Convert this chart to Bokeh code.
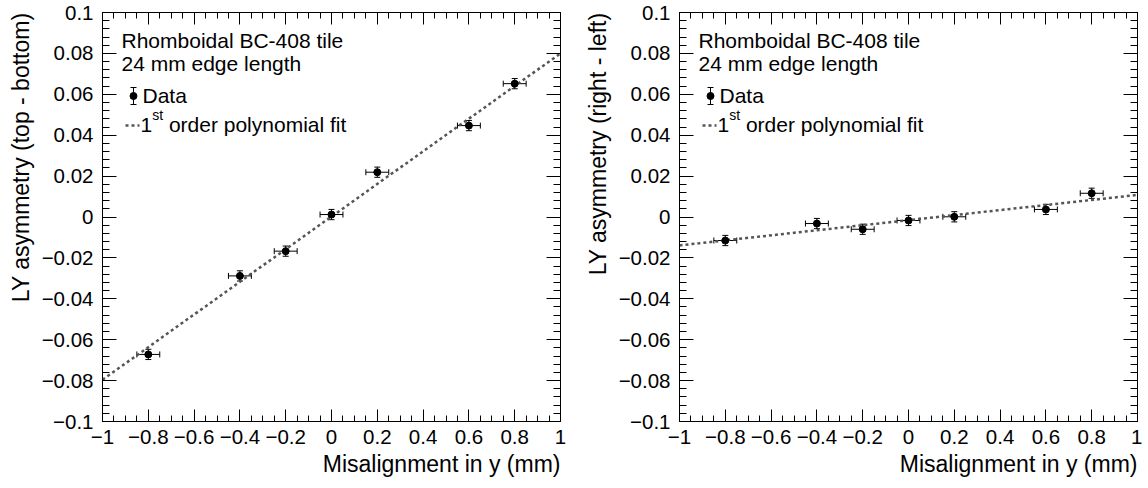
import math
from bokeh.plotting import figure
from bokeh.models import (ColumnDataSource, Whisker, TeeHead, Label, LinearAxis, Title,
                          SingleIntervalTicker, CustomJSTickFormatter, Range1d)
from bokeh.layouts import row
from bokeh.embed import file_html
from bokeh.resources import INLINE

# ---------------- data ----------------
misalign = [-0.8, -0.4, -0.2, 0.0, 0.2, 0.6, 0.8]          # mm
misalign_err = [0.05, 0.05, 0.05, 0.05, 0.05, 0.05, 0.05]

asym_top_bottom = [-0.0672, -0.0288, -0.0167, 0.0012, 0.0219, 0.0447, 0.0652]
asym_top_bottom_err = [0.0025, 0.0025, 0.0025, 0.0025, 0.0025, 0.0025, 0.0025]

asym_right_left = [-0.0115, -0.0032, -0.0060, -0.0017, 0.0001, 0.0037, 0.0116]
asym_right_left_err = [0.0025, 0.0025, 0.0025, 0.0025, 0.0025, 0.0025, 0.0025]

fit_x = [-1.0, 1.0]
fit_top_bottom = [-0.0796, 0.0800]
fit_right_left = [-0.0139, 0.0108]

legend_lines = ["Rhomboidal BC-408 tile", "24 mm edge length"]
legend_data = "Data"
legend_fit = ["1", "st", "order polynomial fit"]
y_titles = ["LY asymmetry (top - bottom)", "LY asymmetry (right - left)"]
x_title = "Misalignment in y (mm)"

X0, X1 = -1.0, 1.0
Y0, Y1 = -0.1, 0.1
X_TICK_STEP, X_MINOR = 0.2, 4
Y_TICK_STEP, Y_MINOR = 0.02, 5

# ---------------- style ----------------
FONT = "Liberation Sans"
FW, FH = 458, 409
TXT_SHIFT = 7   # label baseline correction (px)


def dx(px):
    return X0 + px * (X1 - X0) / FW


def dy(py):
    return Y1 - py * (Y1 - Y0) / FH


FMT_CODE = """
var v = Math.round(tick * 1000) / 1000;
if (Math.abs(v) < 1e-9) { return "0"; }
var s = String(Math.abs(v));
return (v < 0 ? "\\u2212" : "") + s;
"""


def style_axis(ax, interval, nminor, tick_len, show_labels, standoff):
    ax.ticker = SingleIntervalTicker(interval=interval, num_minor_ticks=nminor)
    ax.major_tick_in = tick_len
    ax.major_tick_out = 0
    ax.minor_tick_in = tick_len // 2
    ax.minor_tick_out = 0
    ax.axis_line_color = "black"
    ax.major_tick_line_color = "black"
    ax.minor_tick_line_color = "black"
    ax.axis_line_width = 1
    ax.major_tick_line_width = 1
    ax.minor_tick_line_width = 1
    ax.axis_label = None
    if show_labels:
        ax.formatter = CustomJSTickFormatter(code=FMT_CODE)
        ax.major_label_text_font = FONT
        ax.major_label_text_font_size = "20.5px"
        ax.major_label_text_color = "black"
        ax.major_label_standoff = standoff
    else:
        ax.formatter = CustomJSTickFormatter(code="return '';")
        ax.major_label_text_font_size = "0px"
        ax.major_label_standoff = 0


def txt(p, px, py, text, size):
    p.add_layout(Label(x=dx(px), y=dy(py - TXT_SHIFT), text=text, text_font=FONT,
                       text_font_size=size, text_color="black",
                       text_baseline="alphabetic", text_align="left"))


def make_panel(ys, yerr, fit_y, ytitle, border_left, border_right):
    p = figure(frame_width=FW, frame_height=FH,
               x_range=Range1d(X0, X1), y_range=Range1d(Y0, Y1),
               min_border_left=border_left, min_border_right=border_right,
               min_border_top=12, min_border_bottom=59,
               output_backend="svg", toolbar_location=None, tools="")
    p.grid.visible = False
    p.outline_line_color = "black"
    p.outline_line_width = 1
    p.background_fill_color = "white"
    p.border_fill_color = "white"

    style_axis(p.xaxis[0], X_TICK_STEP, X_MINOR, 12, True, 8)
    style_axis(p.yaxis[0], Y_TICK_STEP, Y_MINOR, 14, True, 9)
    top = LinearAxis()
    style_axis(top, X_TICK_STEP, X_MINOR, 12, False, 0)
    p.add_layout(top, "above")
    right = LinearAxis()
    style_axis(right, Y_TICK_STEP, Y_MINOR, 14, False, 0)
    p.add_layout(right, "right")

    src = ColumnDataSource(dict(
        x=misalign, y=ys,
        xlo=[a - e for a, e in zip(misalign, misalign_err)],
        xhi=[a + e for a, e in zip(misalign, misalign_err)],
        ylo=[a - e for a, e in zip(ys, yerr)],
        yhi=[a + e for a, e in zip(ys, yerr)],
    ))

    # fit line
    p.line(fit_x, fit_y, line_color="#555555", line_width=2.5, line_dash="3 3")

    # error bars
    def head():
        return TeeHead(size=6, line_color="black", line_width=1)
    p.add_layout(Whisker(base="x", lower="ylo", upper="yhi", dimension="height", source=src,
                         line_color="black", line_width=1, upper_head=head(), lower_head=head()))
    p.add_layout(Whisker(base="y", lower="xlo", upper="xhi", dimension="width", source=src,
                         line_color="black", line_width=1, upper_head=head(), lower_head=head()))
    p.scatter("x", "y", source=src, size=7, color="black")

    # legend
    txt(p, 19, 35, legend_lines[0], "21px")
    txt(p, 19, 58, legend_lines[1], "21px")
    lsrc = ColumnDataSource(dict(x=[dx(31)], lo=[dy(92)], hi=[dy(75)], y=[dy(83.5)]))
    p.add_layout(Whisker(base="x", lower="lo", upper="hi", dimension="height", source=lsrc,
                         line_color="black", line_width=1, upper_head=head(), lower_head=head()))
    p.scatter("x", "y", source=lsrc, size=7, color="black")
    txt(p, 40, 89.7, legend_data, "21px")
    p.line([dx(23), dx(37)], [dy(113), dy(113)], line_color="#555555", line_width=2.5,
           line_dash="3 3")
    txt(p, 38, 119, legend_fit[0], "21px")
    txt(p, 49.7, 109, legend_fit[1], "14px")
    txt(p, 66.4, 119, legend_fit[2], "21px")

    # axis titles (right/top aligned like ROOT)
    p.add_layout(Title(text=x_title, align="right", text_font=FONT, text_font_size="23px",
                       text_font_style="normal", text_color="black", standoff=4), "below")
    p.add_layout(Title(text=ytitle, align="right", text_font=FONT, text_font_size="23px",
                       text_font_style="normal", text_color="black", standoff=10), "left")
    return p


p1 = make_panel(asym_top_bottom, asym_top_bottom_err, fit_top_bottom, y_titles[0], 100, 16)
p2 = make_panel(asym_right_left, asym_right_left_err, fit_right_left, y_titles[1], 103, 5)

layout = row(p1, p2)
open("out.html", "w").write(file_html(layout, INLINE))
